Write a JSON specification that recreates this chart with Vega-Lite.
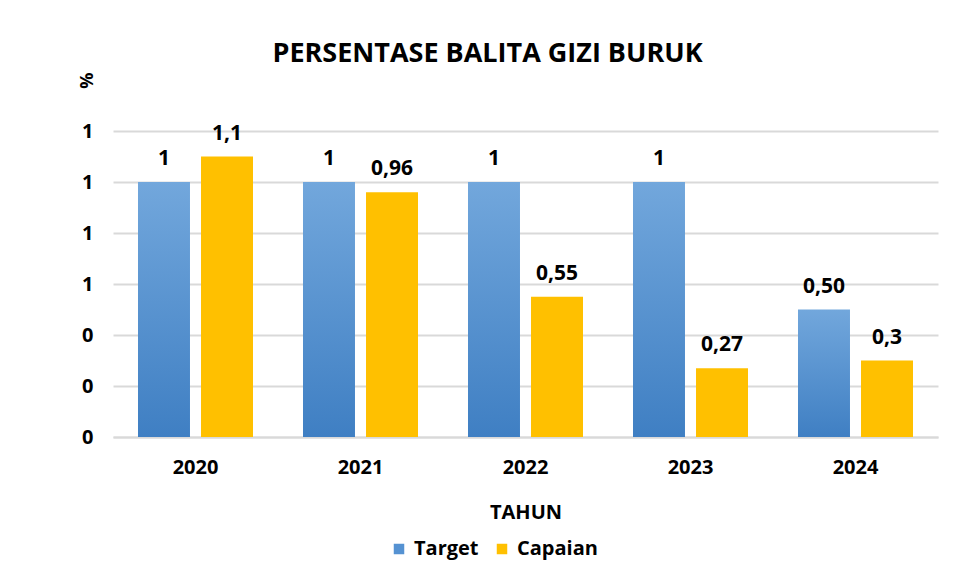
{
  "$schema": "https://vega.github.io/schema/vega-lite/v6.json",
  "autosize": "none",
  "width": 825,
  "height": 306,
  "padding": {"left": 113, "top": 131, "right": 17, "bottom": 141},
  "background": "#ffffff",
  "config": {
    "font": "Open Sans",
    "view": {"stroke": null}
  },
  "title": {
    "text": "PERSENTASE BALITA GIZI BURUK",
    "font": "Open Sans",
    "fontSize": 27,
    "fontWeight": "bold",
    "color": "#000000",
    "anchor": "middle",
    "dx": -38,
    "offset": 4
  },
  "data": {
    "values": [
      {"tahun": "2020", "series": "Target", "value": 1.0, "label": "1"},
      {"tahun": "2020", "series": "Capaian", "value": 1.1, "label": "1,1"},
      {"tahun": "2021", "series": "Target", "value": 1.0, "label": "1"},
      {"tahun": "2021", "series": "Capaian", "value": 0.96, "label": "0,96"},
      {"tahun": "2022", "series": "Target", "value": 1.0, "label": "1"},
      {"tahun": "2022", "series": "Capaian", "value": 0.55, "label": "0,55"},
      {"tahun": "2023", "series": "Target", "value": 1.0, "label": "1"},
      {"tahun": "2023", "series": "Capaian", "value": 0.27, "label": "0,27"},
      {"tahun": "2024", "series": "Target", "value": 0.5, "label": "0,50"},
      {"tahun": "2024", "series": "Capaian", "value": 0.3, "label": "0,3"}
    ]
  },
  "encoding": {
    "x": {
      "field": "tahun",
      "type": "nominal",
      "scale": {"paddingInner": 0.303, "paddingOuter": 0.1515},
      "axis": {
        "title": "TAHUN",
        "titleFont": "Open Sans",
        "titleFontSize": 20,
        "titleFontWeight": "bold",
        "titleColor": "#000000",
        "titlePadding": 25,
        "labelAngle": 0,
        "labelFont": "Open Sans",
        "labelFontSize": 20,
        "labelFontWeight": "bold",
        "labelColor": "#000000",
        "labelPadding": 20,
        "domain": true,
        "domainColor": "#d9d9d9",
        "domainWidth": 2,
        "ticks": false
      }
    },
    "xOffset": {
      "field": "series",
      "type": "nominal",
      "scale": {"domain": ["Target", "Capaian"], "paddingInner": 0.175, "paddingOuter": 0}
    },
    "y": {
      "field": "value",
      "type": "quantitative",
      "scale": {"domain": [0, 1.2], "nice": false},
      "axis": {
        "title": "%",
        "titleFont": "Open Sans",
        "titleFontSize": 18,
        "titleFontWeight": "bold",
        "titleColor": "#000000",
        "titleAnchor": "end",
        "titleAngle": -90,
        "titleX": -17,
        "titleY": -59,
        "values": [0, 0.2, 0.4, 0.6, 0.8, 1.0, 1.2],
        "labelExpr": "toString(round(datum.value))",
        "labelFont": "Open Sans",
        "labelFontSize": 20,
        "labelFontWeight": "bold",
        "labelColor": "#000000",
        "labelPadding": 20,
        "domain": false,
        "ticks": false,
        "grid": true,
        "gridColor": "#d9d9d9",
        "gridWidth": 2
      }
    }
  },
  "layer": [
    {
      "mark": {"type": "bar"},
      "encoding": {
        "color": {
          "condition": {
            "test": "datum.series === 'Target'",
            "value": {
              "gradient": "linear",
              "x1": 0, "y1": 0, "x2": 0, "y2": 1,
              "stops": [
                {"offset": 0, "color": "#72a7dc"},
                {"offset": 1, "color": "#3f7fc3"}
              ]
            }
          },
          "field": "series",
          "type": "nominal",
          "scale": {"domain": ["Target", "Capaian"], "range": ["#5592d2", "#ffc000"]},
          "legend": {
            "title": null,
            "orient": "none",
            "direction": "horizontal",
            "legendX": 276,
            "legendY": 408,
            "symbolType": "square",
            "symbolSize": 110,
            "symbolStrokeWidth": 0,
            "labelFont": "Open Sans",
            "labelFontSize": 20,
            "labelFontWeight": "bold",
            "labelColor": "#000000",
            "columnPadding": 13,
            "labelOffset": 5
          }
        }
      }
    },
    {
      "mark": {
        "type": "text",
        "baseline": "alphabetic",
        "dy": -17,
        "font": "Open Sans",
        "fontSize": 21,
        "fontWeight": "bold",
        "color": "#000000"
      },
      "encoding": {
        "text": {"field": "label", "type": "nominal"}
      }
    }
  ]
}
